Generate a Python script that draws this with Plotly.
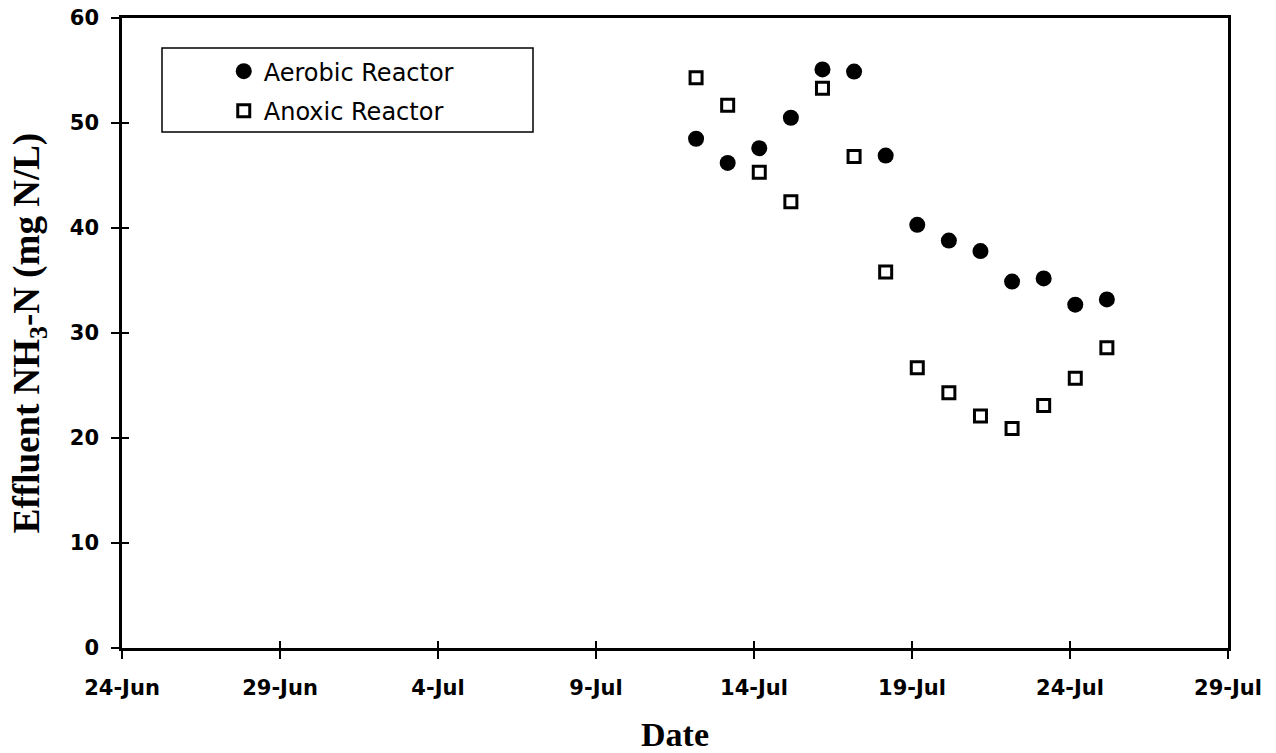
import plotly.graph_objects as go

dates = ["1999-07-12 04:00", "1999-07-13 04:00", "1999-07-14 04:00", "1999-07-15 04:00",
         "1999-07-16 04:00", "1999-07-17 04:00", "1999-07-18 04:00", "1999-07-19 04:00",
         "1999-07-20 04:00", "1999-07-21 04:00", "1999-07-22 04:00", "1999-07-23 04:00",
         "1999-07-24 04:00", "1999-07-25 04:00"]
aerobic = [48.5, 46.2, 47.6, 50.5, 55.1, 54.9, 46.9, 40.3, 38.8, 37.8, 34.9, 35.2, 32.7, 33.2]
anoxic = [54.3, 51.7, 45.3, 42.5, 53.3, 46.8, 35.8, 26.7, 24.3, 22.1, 20.9, 23.1, 25.7, 28.6]

x_range = ["1999-06-24", "1999-07-29"]
x_tick_vals = ["1999-06-24", "1999-06-29", "1999-07-04", "1999-07-09",
               "1999-07-14", "1999-07-19", "1999-07-24", "1999-07-29"]
x_tick_text = ["24-Jun", "29-Jun", "4-Jul", "9-Jul", "14-Jul", "19-Jul", "24-Jul", "29-Jul"]
y_tick_vals = [0, 10, 20, 30, 40, 50, 60]

tick_font = dict(family="DejaVu Sans", size=21, color="black", weight="bold")
serif = "Liberation Serif, Times New Roman, serif"
legend_font = dict(family="DejaVu Sans", size=24, color="black")

fig = go.Figure()
fig.add_trace(go.Scatter(
    x=dates, y=aerobic, mode="markers", name="Aerobic Reactor",
    marker=dict(symbol="circle", size=16, color="black"),
    legend="legend"))
fig.add_trace(go.Scatter(
    x=dates, y=anoxic, mode="markers", name="Anoxic Reactor",
    marker=dict(symbol="square-open", size=12, color="black", line=dict(width=3, color="black")),
    legend="legend2"))
# empty trace anchoring the overlay axes that draw the inward half of each tick
fig.add_trace(go.Scatter(x=[], y=[], xaxis="x2", yaxis="y2", showlegend=False, hoverinfo="skip"))

fig.update_layout(
    width=1276, height=753,
    margin=dict(l=122, r=48, t=18, b=105, autoexpand=False),
    paper_bgcolor="white", plot_bgcolor="white",
    showlegend=True,
    xaxis=dict(
        type="date", range=x_range, tickmode="array",
        tickvals=x_tick_vals, ticktext=x_tick_text,
        ticks="outside", ticklen=8, tickwidth=2, tickcolor="black",
        ticklabelstandoff=11, automargin=False,
        showline=True, linecolor="black", linewidth=3, mirror=True,
        showgrid=False, zeroline=False, tickfont=tick_font,
        title=dict(text="<b>Date</b>", font=dict(family=serif, size=34, color="black"), standoff=24),
    ),
    yaxis=dict(
        range=[0, 60], tickmode="array", tickvals=y_tick_vals,
        ticks="outside", ticklen=8, tickwidth=2, tickcolor="black",
        ticklabelstandoff=8, automargin=False,
        showline=True, linecolor="black", linewidth=2.5, mirror=True,
        showgrid=False, zeroline=False, tickfont=tick_font,
        title=dict(text="<b>Effluent NH<sub>3</sub>-N (mg N/L)</b>",
                   font=dict(family=serif, size=37, color="black"), standoff=19),
    ),
    xaxis2=dict(
        type="date", overlaying="x", matches="x", anchor="y", side="bottom",
        tickmode="array", tickvals=x_tick_vals, ticks="inside", ticklen=7, tickwidth=2,
        tickcolor="black", showticklabels=False, showline=False, showgrid=False, zeroline=False,
    ),
    yaxis2=dict(
        overlaying="y", matches="y", anchor="x", side="left",
        tickmode="array", tickvals=y_tick_vals, ticks="inside", ticklen=7, tickwidth=2,
        tickcolor="black", showticklabels=False, showline=False, showgrid=False, zeroline=False,
    ),
    legend=dict(
        x=0.092, y=0.915, xanchor="left", yanchor="middle",
        bgcolor="rgba(0,0,0,0)", borderwidth=0, font=legend_font,
    ),
    legend2=dict(
        x=0.092, y=0.852, xanchor="left", yanchor="middle",
        bgcolor="rgba(0,0,0,0)", borderwidth=0, font=legend_font,
    ),
    shapes=[dict(
        type="rect", xref="paper", yref="paper",
        x0=(162 - 122) / 1106, x1=(533 - 122) / 1106,
        y0=(648 - 132) / 630, y1=(648 - 48) / 630,
        line=dict(color="black", width=1.5), fillcolor="rgba(0,0,0,0)", layer="below",
    )],
)

fig.write_html("out.html", config={"displayModeBar": False},
               post_script="document.body.style.margin='0';document.body.style.padding='0';")
